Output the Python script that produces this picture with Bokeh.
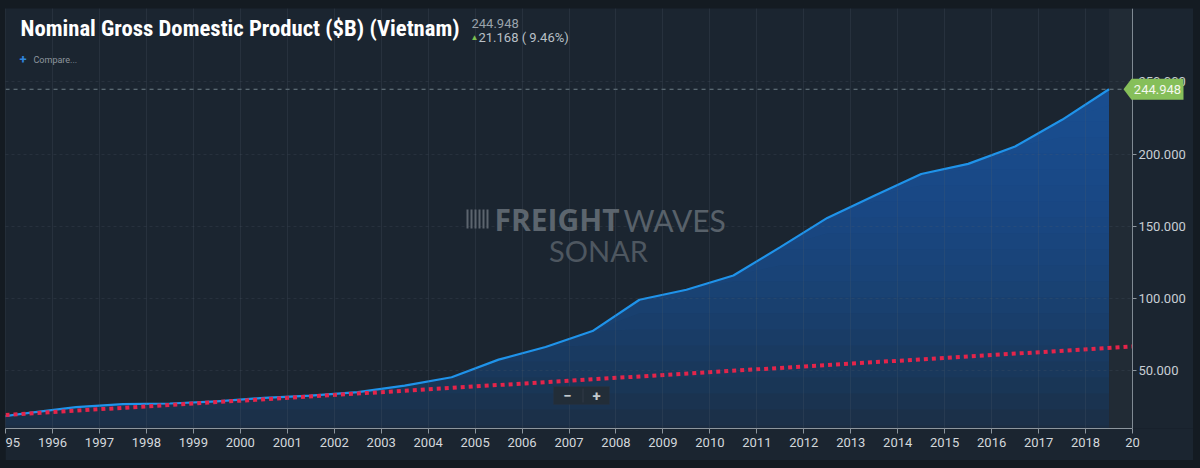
import numpy as np
from bokeh.plotting import figure
from bokeh.models import (Range1d, FixedTicker, NumeralTickFormatter, Label,
                          PolyAnnotation, BoxAnnotation, GlobalInlineStyleSheet)
from bokeh.embed import file_html
from bokeh.resources import INLINE

# ---------------- data ----------------
years = [1994, 1995, 1996, 1997, 1998, 1999, 2000, 2001, 2002, 2003, 2004, 2005,
         2006, 2007, 2008, 2009, 2010, 2011, 2012, 2013, 2014, 2015, 2016, 2017, 2018]
gdp_billion = [16.29, 20.74, 24.66, 26.84, 27.21, 28.68, 31.17, 32.69, 35.06, 39.55,
               45.43, 57.63, 66.37, 77.41, 99.13, 106.01, 115.93, 135.54, 155.82,
               171.22, 186.20, 193.24, 205.28, 223.78, 244.948]
trend_years = [1995, 2019]
trend_values = [19.3, 66.7]
x_tick_years = [1995, 1996, 1997, 1998, 1999, 2000, 2001, 2002, 2003, 2004, 2005, 2006,
                2007, 2008, 2009, 2010, 2011, 2012, 2013, 2014, 2015, 2016, 2017, 2018, 2019]
x_label_overrides = {1995: "95", 2019: "20"}
y_tick_values = [50, 100, 150, 200, 250]
title_text = "Nominal Gross Domestic Product ($B) (Vietnam)"
change_value = 21.168
change_pct = 9.46

# ---------------- style / layout ----------------
PANEL = "#1b2530"
OUTER = "#141b22"
AXIS = "#8d969e"
FONT = "Roboto"
WM = "#5c656e"

W, H = 1188, 452          # panel placed at (5, 8) on the page by body padding
FRAME_BOTTOM = 420        # px from top of figure
AXIS_PX = 1127            # px position of the value axis inside the figure
x_start, x_axis_end = x_tick_years[0], x_tick_years[-1]
x_end = x_start + (x_axis_end - x_start) * W / AXIS_PX

p = figure(width=W, height=H, output_backend="svg", toolbar_location=None,
           x_range=Range1d(x_start - 0.001, x_end), y_range=Range1d(9.9, 300.9),
           y_axis_location="right",
           min_border_left=0, min_border_top=0, min_border_right=0,
           min_border_bottom=H - FRAME_BOTTOM,
           background_fill_color=PANEL, border_fill_color=PANEL, outline_line_color=None)
p.stylesheets = [GlobalInlineStyleSheet(
    css="html, body { background: %s !important; } "
        "body { padding: 8px 7px 8px 5px !important; box-sizing: border-box; }" % OUTER)]

x_mid = [y + 0.5 for y in years]
n = len(years)
vals = np.array(gdp_billion)

# region after the last observation
p.add_layout(BoxAnnotation(left=x_mid[-1], right=x_axis_end, fill_color="#2a323b",
                           fill_alpha=0.45, line_color=None, level="underlay"))

# gradient area fill (vertical gradient by absolute level)
p.varea(x=x_mid, y1=[0] * n, y2=gdp_billion, fill_color="#1c2d42", fill_alpha=1.0)
levels = np.linspace(12, 245, 22)
for L in levels:
    p.varea(x=x_mid, y1=np.minimum(vals, L), y2=vals, fill_color="#1958a0", fill_alpha=0.08)

# series line
p.line(x_mid, gdp_billion, line_color="#1f93ea", line_width=2.2)

# trend (dotted red)
p.line(trend_years, trend_values, line_color="#e5244a", line_width=4, line_dash="4 4")

# last value dashed line
p.segment(x0=[x_start], x1=[x_axis_end], y0=[gdp_billion[-1]], y1=[gdp_billion[-1]],
          line_color="#6f7f86", line_dash="4 4", line_width=1)

# grids
p.xgrid.ticker = FixedTicker(ticks=x_tick_years)
p.xgrid.grid_line_color = "#52606e"
p.xgrid.grid_line_alpha = 0.22
p.xgrid.level = "annotation"
p.ygrid.ticker = FixedTicker(ticks=y_tick_values)
p.ygrid.grid_line_color = "#52606e"
p.ygrid.grid_line_alpha = 0.22
p.ygrid.grid_line_dash = "3 3"
p.ygrid.level = "annotation"
try:
    p.ygrid.cross_bounds = (x_start, x_axis_end)
except Exception:
    pass

# axes
xa = p.xaxis[0]
xa.ticker = FixedTicker(ticks=x_tick_years)
xa.major_label_overrides = x_label_overrides
xa.bounds = (x_start, x_axis_end)
xa.axis_line_color = AXIS
xa.major_tick_line_color = AXIS
xa.major_tick_out = 5
xa.major_tick_in = 0
xa.minor_tick_line_color = None
xa.major_label_text_color = "#d3d8dc"
xa.major_label_text_font = FONT
xa.major_label_text_font_size = "13px"
xa.major_label_standoff = 4

ya = p.yaxis[0]
ya.fixed_location = x_axis_end
ya.ticker = FixedTicker(ticks=y_tick_values)
ya.formatter = NumeralTickFormatter(format="0.000")
ya.axis_line_color = AXIS
ya.major_tick_line_color = AXIS
ya.major_tick_out = 4
ya.major_tick_in = 0
ya.minor_tick_line_color = None
ya.major_label_text_color = "#c8ced4"
ya.major_label_text_font = FONT
ya.major_label_text_font_size = "13px"
ya.major_label_standoff = 2


# screen helpers: reference-image pixel -> frame-relative screen units (y up)
def sx(rx):
    return rx - 5


def sy(ry):
    return (FRAME_BOTTOM + 8) - ry


def lab(text, rx, ry, size, color, style="normal", font=FONT, align="left",
        baseline="middle", **kw):
    p.add_layout(Label(x=sx(rx), y=sy(ry), x_units="screen", y_units="screen", text=text,
                       text_font=font, text_font_size=size, text_color=color,
                       text_font_style=style, text_align=align, text_baseline=baseline, **kw))


def sbox(l, r, t, b, color, line=None):
    p.add_layout(BoxAnnotation(left=sx(l), right=sx(r), top=sy(t), bottom=sy(b),
                               left_units="screen", right_units="screen",
                               top_units="screen", bottom_units="screen",
                               fill_color=color, fill_alpha=1.0,
                               line_color=line, line_width=1))


# header
lab(title_text, 20, 28, "22.7px", "#ffffff", style="bold", font="Roboto Condensed")
lab("%.3f" % gdp_billion[-1], 471, 23, "13px", "#9aa3ab")
lab("\u25b2", 470, 37, "8px", "#7cc04f")
lab("%.3f ( %.2f%%)" % (change_value, change_pct), 478, 37, "13px", "#b9c0c7")
lab("+", 19, 59, "13px", "#2f86de", style="bold")
lab("Compare...", 33, 59, "9px", "#8e969e")

# watermark (logo bars + words)
for bx in range(466, 490, 4):
    sbox(bx, bx + 2, 209, 228, WM)
lab("FREIGHT", 619, 219, "30px", WM, style="bold", font="Open Sans", align="right")
lab("WAVES", 623, 219, "30px", "#58616a", font="Lato")
lab("SONAR", 598, 250, "29px", "#4e5760", font="Lato", align="center")

# zoom buttons
sbox(553, 609, 386, 404, "#222d38", line="#2a3541")
sbox(582, 583, 388, 402, "#303b47")
for t, rx in (("\u2212", 567), ("+", 596)):
    lab(t, rx, 395, "15px", "#c3c9ce", style="bold", align="center", baseline="middle")

# last value tag
v = gdp_billion[-1]
p.add_layout(PolyAnnotation(xs=[sx(1123), sx(1131), sx(1183), sx(1183), sx(1131)],
                            xs_units="screen",
                            ys=[v, v + 7.3, v + 7.3, v - 7.3, v - 7.3], ys_units="data",
                            fill_color="#86bf5a", fill_alpha=1.0, line_color=None))
p.add_layout(Label(x=sx(1157), x_units="screen", y=v, y_units="data", text="%.3f" % v,
                   text_font=FONT, text_font_size="13px", text_color="#f4f8ee",
                   text_align="center", text_baseline="middle"))

open("out.html", "w").write(file_html(p, INLINE))
